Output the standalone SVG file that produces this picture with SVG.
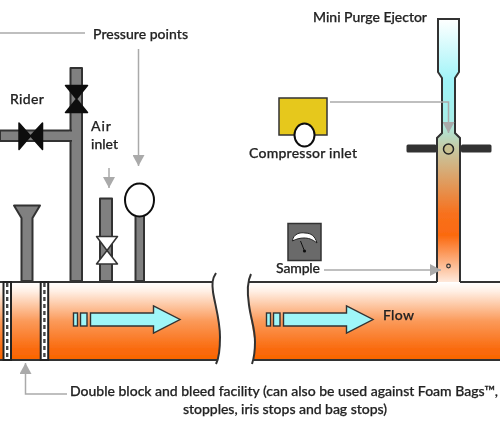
<svg xmlns="http://www.w3.org/2000/svg" width="500" height="432" viewBox="0 0 500 432">
<style>
text{font-family:"Lato","Open Sans","Liberation Sans",sans-serif;font-size:14px;font-weight:500;fill:#222;stroke:#222;stroke-width:.25}
.pipe{fill:url(#pg);stroke:none}
.edge{fill:none;stroke:#333;stroke-width:2}
.gp{fill:#808080;stroke:#333;stroke-width:2;stroke-linejoin:round}
.lead{fill:none;stroke:#aaa;stroke-width:1.5}
.flow{fill:#9ff6f8;stroke:#333;stroke-width:1.4}
.bl{fill:#111;stroke:#111;stroke-width:1.5;stroke-linejoin:round}
.flg{fill:#fff;stroke:#222;stroke-width:2}
.dash{stroke:#444;stroke-width:2.4;stroke-dasharray:4 3}
</style>
<defs>
<filter id="soft" x="0" y="0" width="100%" height="100%"><feGaussianBlur stdDeviation=".35"/></filter>
<linearGradient id="pg" gradientUnits="userSpaceOnUse" x1="0" y1="282" x2="0" y2="360">
<stop offset="0" stop-color="#fff"/><stop offset=".12" stop-color="#ffefe4"/><stop offset=".5" stop-color="#fb9a5a"/><stop offset=".85" stop-color="#fa6c10"/><stop offset="1" stop-color="#f96400"/>
</linearGradient>
<linearGradient id="eg" gradientUnits="userSpaceOnUse" x1="0" y1="19" x2="0" y2="290">
<stop offset="0" stop-color="#fff"/><stop offset=".23" stop-color="#9ff4f8"/><stop offset=".38" stop-color="#a8eee8"/><stop offset=".47" stop-color="#c4cca8"/><stop offset=".72" stop-color="#f8701c"/><stop offset=".8" stop-color="#fb6a10"/><stop offset="1" stop-color="#fff"/>
</linearGradient>
<marker id="ah" markerUnits="userSpaceOnUse" markerWidth="12" markerHeight="12" refX="11" refY="6" orient="auto"><path d="M0,0L11,6L0,12z" fill="#aaa"/></marker>
</defs>
<g filter="url(#soft)">
<g id="pipe-left">
<path class="pipe" d="M0,282H212C214,295 220,320 220,336C220,348 218,358 217,360H0z"/>
<path class="edge" d="M0,282H212M0,360H217M216,273C212,279 212,284 213,292C215,305 220,320 220,337C220,349 219,358 216,364"/>
</g>
<g id="pipe-right">
<path class="pipe" d="M248,282H500V360H253C255,350 255,342 253,332C251,318 247,304 248,282z"/>
<path class="edge" d="M248,282H437M460,282H500M253,360H500M251,274C247,282 247,292 249,305C251,320 255,328 255,342C255,352 254,358 252,364"/>
</g>
<g id="flange-1"><rect class="flg" x="3.500" y="282" width="7.500" height="78"/><path class="dash" d="M7.200,283V360"/></g>
<g id="flange-2"><rect class="flg" x="40.700" y="282" width="7.500" height="78"/><path class="dash" d="M44.400,283V360"/></g>
<g id="flow-arrow-left">
<rect class="flow" x="73.500" y="313" width="4" height="13"/><rect class="flow" x="80.500" y="313" width="6.500" height="13"/>
<path class="flow" d="M90.500,313H153.500V306L180,319.500L153.500,333V326H90.500z"/>
</g>
<g id="flow-arrow-right">
<rect class="flow" x="266.500" y="313" width="4" height="13"/><rect class="flow" x="273.500" y="313" width="6.500" height="13"/>
<path class="flow" d="M283.500,313H346.500V306L373,319.500L346.500,333V326H283.500z"/>
</g>
<g id="funnel">
<path class="gp" d="M21.500,281V218L14,205.500H40L32.500,218V281z"/>
</g>
<g id="rider-pipe">
<path class="gp" d="M70.500,281V68H82V281z"/>
<path class="gp" d="M0,130.500H71V141H0z"/>
<path d="M69.500,131.500H72.500V140H69.500z" fill="#808080"/>
<path class="bl" d="M65.500,85.500H87.500L76.500,99L87.500,112.500H65.500L76.500,99z"/>
<path class="bl" d="M19,123L30.500,136L42.500,123V149.500L30.500,136L19,149.500z"/>
</g>
<g id="air-inlet">
<path class="gp" d="M100,281V198.500H112V281z"/>
<path d="M96.500,236.500H117.500L107,250.500L117.500,264H96.500L107,250.500z" fill="#fff" stroke="#333" stroke-width="1.500" stroke-linejoin="round"/>
</g>
<g id="pressure-gauge">
<path class="gp" d="M135.500,281V214H144V281z"/>
<ellipse cx="139.500" cy="200" rx="14.500" ry="16.500" fill="#fff" stroke="#111" stroke-width="2"/>
</g>
<g id="ejector">
<path d="M438,19H459V72L455,78V133L460,138V282H437V138L442,133V78L438,72z" fill="url(#eg)"/>
<path class="edge" d="M437,282V138L442,133V78L438,72V19H459V72L455,78V133L460,138V282"/>
<rect x="406.500" y="144.500" width="30" height="8" rx="1.500" fill="#333"/>
<rect x="461" y="144.500" width="30.500" height="8" rx="1.500" fill="#333"/>
<circle cx="448.500" cy="149" r="5" fill="#c8c090" stroke="#222" stroke-width="1.500"/>
<circle cx="448.500" cy="266" r="1.800" fill="#f8c0a0" stroke="#333" stroke-width="1.200"/>
</g>
<g id="compressor">
<rect x="279" y="98" width="48" height="37" fill="#e6c81e" stroke="#333" stroke-width="1.500"/>
<ellipse cx="304.500" cy="135" rx="10" ry="11.500" fill="#fff" stroke="#111" stroke-width="2"/>
</g>
<g id="sample-meter">
<rect x="288" y="223.500" width="33" height="37" fill="#6a6a6a" stroke="#333" stroke-width="1.500"/>
<path d="M292.500,241C293,234 300,232 305,233C311,233 315,236 317,243C312,239 308,238 304,238C300,238 296,239 292.500,241z" fill="#fff" stroke="#222" stroke-width="1"/>
<path d="M300.500,241L304.500,251" stroke="#111" stroke-width="1"/><circle cx="304.500" cy="251" r="1.600" fill="#111"/>
</g>
<g id="connectors">
<path class="lead" d="M0,33H85"/>
<path class="lead" d="M138.500,49V166" marker-end="url(#ah)"/>
<path class="lead" d="M109,168V188" marker-end="url(#ah)"/>
<path class="lead" d="M330,102H448.500V133" marker-end="url(#ah)"/>
<path class="lead" d="M324,270H441" marker-end="url(#ah)"/>
<path class="lead" d="M67,394H25.500V363" marker-end="url(#ah)"/>
</g>
<g id="labels">
<text x="93" y="39" textLength="95">Pressure points</text>
<text x="10" y="104" textLength="34">Rider</text>
<text x="91" y="131" textLength="20">Air</text>
<text x="91" y="149" textLength="27">inlet</text>
<text x="313" y="21.500" textLength="114">Mini Purge Ejector</text>
<text x="249" y="158" textLength="108">Compressor inlet</text>
<text x="276" y="273" textLength="44">Sample</text>
<text x="383" y="320" textLength="31">Flow</text>
<text x="70" y="396" textLength="428">Double block and bleed facility (can also be used against Foam Bags™,</text>
<text x="183" y="414" textLength="204">stopples, iris stops and bag stops)</text>
</g>
</g>
</svg>
